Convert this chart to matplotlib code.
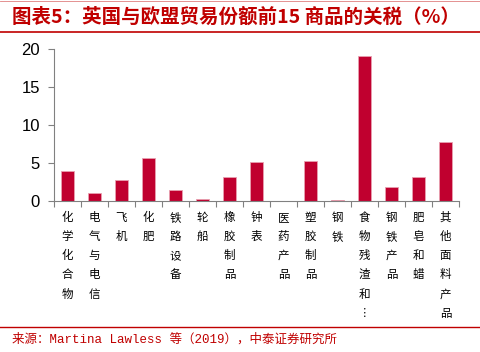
import matplotlib.pyplot as plt
from matplotlib.lines import Line2D

plt.rcParams['font.family'] = ['Noto Sans CJK SC', 'DejaVu Sans']

categories = ['化学化合物', '电气与电信', '飞机', '化肥', '铁路设备', '轮船', '橡胶制品', '钟表',
              '医药产品', '塑胶制品', '钢铁', '食物残渣和︙', '钢铁产品', '肥皂和蜡', '其他面料产品']
tariffs = [3.9, 1.1, 2.7, 5.6, 1.5, 0.2, 3.1, 5.1, 0.0, 5.2, 0.1, 19.1, 1.9, 3.1, 7.7]

red = '#C00000'
bar_color = '#C0002F'

fig = plt.figure(figsize=(4.8, 3.52), dpi=100)
ax = fig.add_axes([54 / 480, 1 - 201 / 352, 405 / 480, 152 / 352])

x = list(range(len(categories)))
ax.bar(x, tariffs, width=0.48, color=bar_color, edgecolor='#E8A0B0', linewidth=0.6)

ax.set_xlim(-0.5, len(categories) - 0.5)
ax.set_ylim(0, 20)
ax.set_yticks([0, 5, 10, 15, 20])
ax.set_yticklabels(['0', '5', '10', '15', '20'],
                   family=['Liberation Sans Narrow', 'Liberation Sans'], fontsize=12)

# category boundaries carry the tick marks, labels sit at centres
ax.set_xticks([i - 0.5 for i in range(len(categories) + 1)])
ax.set_xticklabels([])
ax.set_xticks(x, minor=True)
ax.set_xticklabels(['\n'.join(c) for c in categories], minor=True,
                   fontsize=8.3, linespacing=1.62, va='top')
ax.tick_params(axis='x', which='minor', length=0, pad=7)
ax.tick_params(axis='x', which='major', length=4, color='#808080', direction='out')
ax.tick_params(axis='y', length=4, color='#808080', pad=6)

for s in ['top', 'right']:
    ax.spines[s].set_visible(False)
for s in ['left', 'bottom']:
    ax.spines[s].set_color('#808080')
    ax.spines[s].set_linewidth(0.8)

fig.text(12 / 480, 1 - 17 / 352, '图表5：英国与欧盟贸易份额前15 商品的关税（%）',
         color=red, fontsize=14, fontweight='bold', va='center')
fig.add_artist(Line2D([0, 1], [1 - 0.5 / 352, 1 - 0.5 / 352], color=red, lw=0.6, alpha=0.5))
fig.add_artist(Line2D([0, 1], [1 - 32 / 352, 1 - 32 / 352], color=red, lw=1.2))
fig.add_artist(Line2D([0, 1], [1 - 327 / 352, 1 - 327 / 352], color=red, lw=1.0))
fig.text(12 / 480, 1 - 339 / 352, '来源：Martina Lawless 等（2019），中泰证券研究所',
         color=red, fontsize=9, va='center',
         family=['Liberation Mono', 'Noto Sans CJK SC'])

fig.savefig('out.png', dpi=100)
